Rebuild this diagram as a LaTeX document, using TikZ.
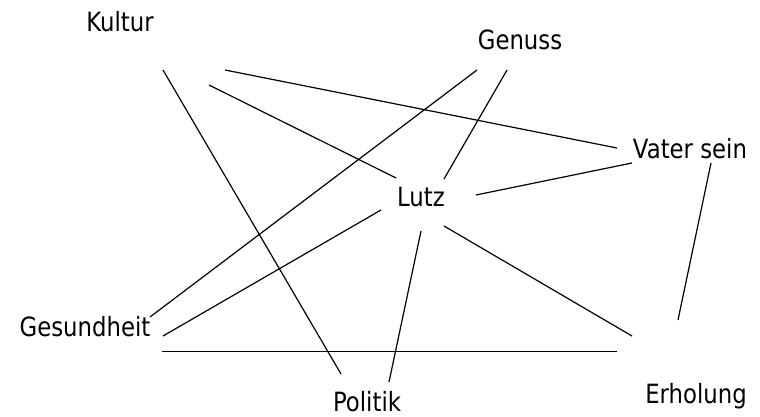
\documentclass[tikz,border=0pt]{standalone}
\usepackage{fontspec}
\setmainfont{DejaVu Sans}[FakeStretch=0.86]
\begin{document}
\begin{tikzpicture}[x=1pt,y=-1pt,
  lbl/.style={anchor=base,inner sep=0pt,font=\fontsize{26.5}{29}\selectfont},
  conn/.style={line width=1.2pt,black}]
\useasboundingbox (0,0) rectangle (760,417);
% labels
\node[lbl] (kultur) at (120,32) {Kultur};
\node[lbl] (genuss) at (520,50) {Genuss};
\node[lbl] (vater) at (690,158) {Vater sein};
\node[lbl] (lutz) at (421,206) {Lutz};
\node[lbl] (gesund) at (85,336) {Gesundheit};
\node[lbl] (erholung) at (696,403) {Erholung};
\node[lbl] (politik) at (367,411) {Politik};
% connector end points
\coordinate (a1) at (163,70);  \coordinate (a2) at (341,374);
\coordinate (b1) at (225,70);  \coordinate (b2) at (617,148);
\coordinate (c1) at (209,85);  \coordinate (c2) at (396,178);
\coordinate (d1) at (477,70);  \coordinate (d2) at (150,317);
\coordinate (e1) at (507,70);  \coordinate (e2) at (444,179);
\coordinate (f1) at (476,195); \coordinate (f2) at (632,163);
\coordinate (g1) at (711,163); \coordinate (g2) at (678,320);
\coordinate (h1) at (381,210); \coordinate (h2) at (163,336);
\coordinate (i1) at (421,231); \coordinate (i2) at (389,382);
\coordinate (j1) at (444,226); \coordinate (j2) at (632,336);
\coordinate (k1) at (162,351.5); \coordinate (k2) at (617,351.5);
\foreach \s in {a,b,c,d,e,f,g,h,i,j,k}
  \draw[conn] (\s1) -- (\s2);
\end{tikzpicture}
\end{document}
